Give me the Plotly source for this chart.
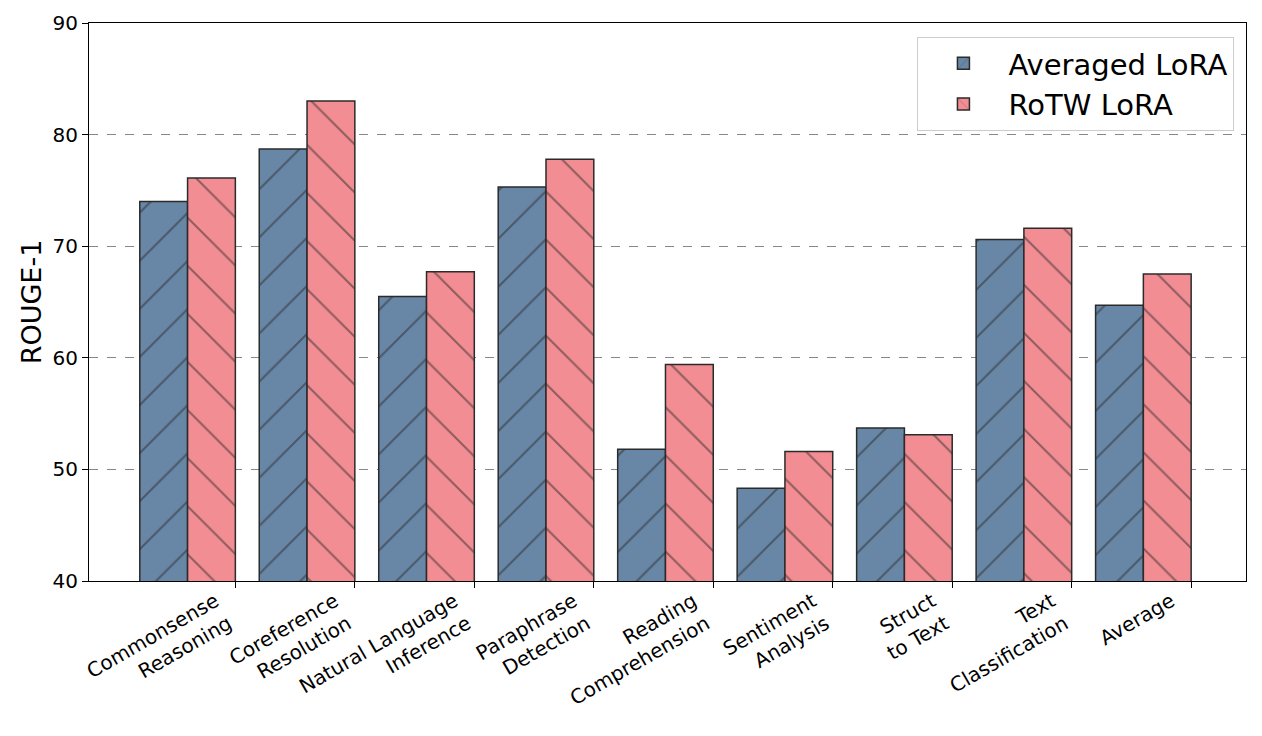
import plotly.graph_objects as go

categories = ["Commonsense<br>Reasoning", "Coreference<br>Resolution", "Natural Language<br>Inference",
              "Paraphrase<br>Detection", "Reading<br>Comprehension", "Sentiment<br>Analysis",
              "Struct<br>to Text", "Text<br>Classification", "Average"]
averaged_lora = [74.0, 78.7, 65.5, 75.3, 51.8, 48.3, 53.7, 70.6, 64.7]
rotw_lora = [76.1, 83.0, 67.7, 77.8, 59.4, 51.6, 53.1, 71.6, 67.5]
y_ticks = [40, 50, 60, 70, 80, 90]

blue = "#6886A6"
pink = "#F28D93"
edge = "#2b2b2b"

idx = list(range(len(categories)))
tick_pos = [i + 0.4 for i in idx]

fig = go.Figure()
fig.add_trace(go.Bar(
    x=idx, y=averaged_lora, name="Averaged LoRA",
    marker=dict(color=blue, line=dict(color=edge, width=1.5),
                pattern=dict(shape="/", fgcolor=edge, bgcolor=blue, size=34, solidity=0.06)),
))
fig.add_trace(go.Bar(
    x=idx, y=rotw_lora, name="RoTW LoRA",
    marker=dict(color=pink, line=dict(color=edge, width=1.5),
                pattern=dict(shape="\\", fgcolor=edge, bgcolor=pink, size=34, solidity=0.06)),
))

fig.update_layout(
    width=1262, height=736,
    margin=dict(l=81, r=24, t=15, b=163),
    barmode="group", bargap=0.2, bargroupgap=0,
    plot_bgcolor="white", paper_bgcolor="white",
    font=dict(family="DejaVu Sans", color="black", size=20),
    legend=dict(x=0.99, y=0.975, xanchor="right", yanchor="top",
                bgcolor="rgba(255,255,255,0.9)", bordercolor="#cccccc", borderwidth=1,
                font=dict(size=29), itemwidth=80),
    xaxis=dict(range=[-0.825, 8.859], tickvals=tick_pos, ticktext=categories,
               tickangle=-30, showline=True, linecolor="black", automargin=False,
               linewidth=1, mirror=True, ticks="outside", ticklen=6, tickcolor="black",
               showgrid=False, zeroline=False, tickfont=dict(size=20),
               ticklabelshift=-20, ticklabelstandoff=-6),
    yaxis=dict(range=[40, 90], tickvals=y_ticks, showline=True, linecolor="black",
               linewidth=1, mirror=True, ticks="outside", ticklen=6, tickcolor="black",
               showgrid=True, gridcolor="#888888", griddash="dash", gridwidth=0.8,
               zeroline=False, tickfont=dict(size=20), automargin=False,
               title=dict(text="ROUGE-1", font=dict(size=27), standoff=3)),
)

fig.write_html("out.html")
